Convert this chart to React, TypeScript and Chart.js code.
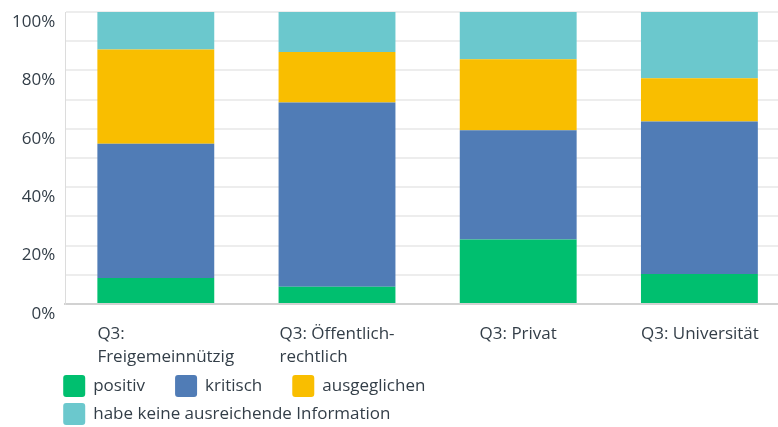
import React, { useEffect, useRef } from "react";
import { Chart, registerables } from "chart.js";

Chart.register(...registerables);

const categories: string[][] = [
  ["Q3:", "Freigemeinnützig"],
  ["Q3: Öffentlich-", "rechtlich"],
  ["Q3: Privat"],
  ["Q3: Universität"],
];
const seriesNames = ["positiv", "kritisch", "ausgeglichen", "habe keine ausreichende Information"];
const positiv = [8.9, 5.9, 22.1, 10.3];
const kritisch = [46.0, 63.1, 37.4, 52.2];
const ausgeglichen = [32.3, 17.3, 24.3, 14.8];
const keineInfo = [12.8, 13.7, 16.2, 22.7];
const seriesColors = ["#00bf6f", "#507cb6", "#f9be00", "#6bc8cd"];
const yTickLabels = [0, 20, 40, 60, 80, 100];

const FONT = '"Open Sans", sans-serif';
const FONT_SIZE = 17;
const TEXT = "#333e48";
const X_LINE_H = 23.5;
const X_PAD = 18;

const xLabelPlugin = {
  id: "xLabelsLeft",
  afterDraw(chart: any) {
    const ctx = chart.ctx;
    const xs = chart.scales.x;
    const meta = chart.getDatasetMeta(0);
    ctx.save();
    ctx.font = `${FONT_SIZE}px ${FONT}`;
    ctx.fillStyle = TEXT;
    ctx.textBaseline = "middle";
    ctx.textAlign = "left";
    categories.forEach((lines, i) => {
      const cx = xs.getPixelForValue(i);
      const bw = meta.data[i].width;
      const blockW = Math.max(...lines.map((l) => ctx.measureText(l).width));
      const left = Math.max(cx - bw / 2, cx - blockW / 2);
      lines.forEach((l, j) => {
        ctx.fillText(l, left, chart.chartArea.bottom + 30 + j * X_LINE_H);
      });
    });
    ctx.restore();
  },
};

const legendPlugin = {
  id: "customLegend",
  afterDraw(chart: any) {
    const ctx = chart.ctx;
    const BOX = 22;
    const GAP = 8;
    const ITEM_GAP = 30;
    const ROW_H = 28;
    const startX = chart.chartArea.left - 2;
    const maxX = 770;
    let x = startX;
    let y = chart.chartArea.bottom + 82;
    ctx.save();
    ctx.font = `${FONT_SIZE}px ${FONT}`;
    ctx.textBaseline = "middle";
    ctx.textAlign = "left";
    chart.data.datasets.forEach((ds: any) => {
      const tw = ctx.measureText(ds.label).width;
      const w = BOX + GAP + tw;
      if (x > startX && x + w > maxX) {
        x = startX;
        y += ROW_H;
      }
      ctx.fillStyle = ds.backgroundColor;
      ctx.beginPath();
      if (ctx.roundRect) ctx.roundRect(x, y - BOX / 2, BOX, BOX, 3);
      else ctx.rect(x, y - BOX / 2, BOX, BOX);
      ctx.fill();
      ctx.fillStyle = TEXT;
      ctx.fillText(ds.label, x + BOX + GAP, y);
      x += w + ITEM_GAP;
    });
    ctx.restore();
  },
};

export default function App() {
  const ref = useRef<HTMLCanvasElement | null>(null);
  useEffect(() => {
    if (!ref.current) return;
    const values = [positiv, kritisch, ausgeglichen, keineInfo];
    const chart = new Chart(ref.current, {
      type: "bar",
      data: {
        labels: categories,
        datasets: seriesNames.map((name, i) => ({
          label: name,
          data: values[i],
          backgroundColor: seriesColors[i],
          borderWidth: 0,
          barPercentage: 0.645,
          categoryPercentage: 1,
        })),
      },
      options: {
        animation: false,
        responsive: true,
        maintainAspectRatio: false,
        layout: { padding: { top: 12, left: 2, right: 2, bottom: 40 } },
        plugins: {
          legend: { display: false },
          tooltip: { enabled: false },
        },
        scales: {
          x: {
            stacked: true,
            grid: { display: false, drawTicks: false },
            border: { display: true, color: "#d2d2d2", width: 2 },
            ticks: {
              color: "rgba(0,0,0,0)",
              padding: X_PAD,
              maxRotation: 0,
              autoSkip: false,
              font: { family: FONT, size: FONT_SIZE, lineHeight: X_LINE_H / FONT_SIZE },
            },
          },
          y: {
            stacked: true,
            min: 0,
            max: 100,
            grid: { color: "#ededed", lineWidth: 2, drawTicks: false },
            border: { display: true, color: "#dcdcdc", width: 1 },
            afterFit: (scale: any) => {
              scale.paddingTop = 0;
              scale.paddingBottom = 0;
            },
            ticks: {
              stepSize: 10,
              padding: 10,
              labelOffset: 10,
              color: TEXT,
              font: { family: FONT, size: FONT_SIZE },
              callback: (v: any) => (yTickLabels.includes(Number(v)) ? `${v}%` : ""),
            },
          },
        },
      },
      plugins: [xLabelPlugin, legendPlugin],
    });
    return () => chart.destroy();
  }, []);
  return (
    <div style={{ position: "fixed", left: 0, top: 0, width: 778, height: 427, overflow: "hidden", background: "#fff" }}>
      <div style={{ position: "relative", width: 792, height: 427 }}>
        <canvas ref={ref} />
      </div>
    </div>
  );
}
